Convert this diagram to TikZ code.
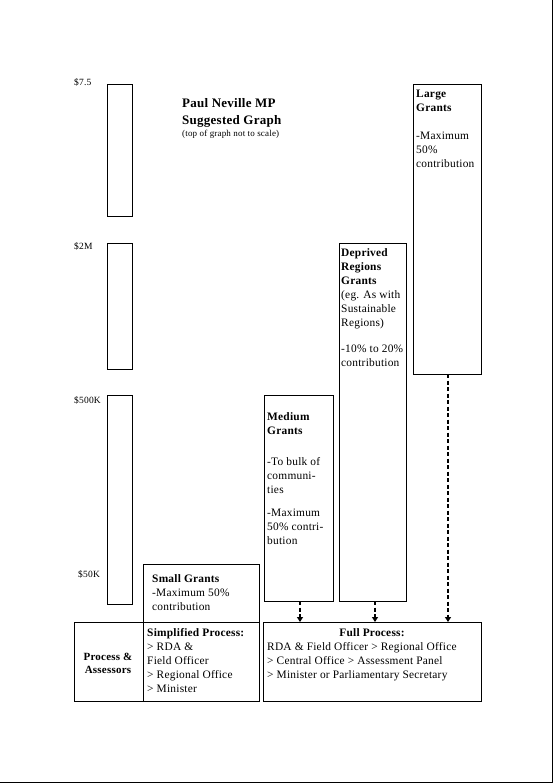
\documentclass[tikz,border=0pt]{standalone}
\usepackage{fontspec}
\setmainfont{Liberation Serif}[LetterSpace=2]
\usetikzlibrary{arrows.meta}
\begin{document}
\begin{tikzpicture}[x=1pt,y=-1pt,
  txt/.style={anchor=north west, inner sep=0pt, align=left, font=\fontsize{11.4}{14}\selectfont},
  lab/.style={anchor=west, inner sep=0pt, font=\fontsize{9.5}{10}\selectfont},
  darr/.style={line width=1.6pt, dash pattern=on 4pt off 2.5pt, -{Triangle[length=5pt,width=6pt]}}
]
\useasboundingbox (0,0) rectangle (554,784);
\draw[line width=1.5pt] (552.5,0) -- (552.5,782.5) -- (0,782.5);

% scale bars
\draw[line width=0.8pt] (107,84) rectangle (132,216);
\draw[line width=0.8pt] (107,243) rectangle (132,369);
\draw[line width=0.8pt] (107,395) rectangle (132,604);
\node[lab] (l1) at (74,82) {\$7.5};
\node[lab] (l2) at (74,246) {\$2M};
\node[lab] (l3) at (74,400) {\$500K};
\node[lab] (l4) at (78,574) {\$50K};

% title
\node[anchor=north west, inner sep=0pt, align=left, font=\fontsize{13}{17}\selectfont\bfseries] (title) at (182,98) {Paul Neville MP\\Suggested Graph};
\node[anchor=north west, inner sep=0pt, font=\fontsize{9}{10}\selectfont] (sub) at (182,130) {(top of graph not to scale)};

% grant boxes
\draw[line width=0.8pt] (143,622) -- (143,564) -- (259,564) -- (259,622);
\node[txt] (smalltxt) at (152,574) {\textbf{Small Grants}\\-Maximum 50\%\\contribution};

\draw[line width=0.8pt] (264,395) rectangle (333,601);
\coordinate (medb) at (300,601);
\node[txt] (medtxt) at (267,412) {\textbf{Medium}\\\textbf{Grants}\\[17pt]-To bulk of\\communi-\\ties\\[9pt]-Maximum\\50\% contri-\\bution};

\draw[line width=0.8pt] (339,243) rectangle (406,601);
\coordinate (depb) at (375,601);
\node[txt] (deptxt) at (341,248) {\textbf{Deprived}\\\textbf{Regions}\\\textbf{Grants}\\(eg. As with\\Sustainable\\Regions)\\[12pt]-10\% to 20\%\\contribution};

\draw[line width=0.8pt] (413,84) rectangle (481,374);
\coordinate (largeb) at (448,374);
\node[txt] (largetxt) at (416,90) {\textbf{Large}\\\textbf{Grants}\\[14pt]-Maximum\\50\%\\contribution};

% process table
\draw[line width=0.8pt] (74,622) rectangle (259,701);
\draw[line width=0.8pt] (143,622) -- (143,701);
\node[align=center, inner sep=0pt, font=\fontsize{11}{13}\selectfont\bfseries] (pa) at (108,663) {Process \&\\Assessors};
\node[txt] (simp) at (147,628) {\textbf{Simplified Process:}\\> RDA \&\\Field Officer\\> Regional Office\\> Minister};

\draw[line width=0.8pt] (263,622) rectangle (481,701);
\coordinate (fullt1) at (300,622);
\coordinate (fullt2) at (375,622);
\coordinate (fullt3) at (448,622);
\node[anchor=north, inner sep=0pt, font=\fontsize{11.4}{14}\selectfont\bfseries] (fullh) at (372,628) {Full Process:};
\node[txt] (full) at (267,642) {RDA \& Field Officer > Regional Office\\> Central Office > Assessment Panel\\> Minister or Parliamentary Secretary};

% arrows
\draw[darr] (medb) -- (fullt1);
\draw[darr] (depb) -- (fullt2);
\draw[darr] (largeb) -- (fullt3);
\end{tikzpicture}
\end{document}
